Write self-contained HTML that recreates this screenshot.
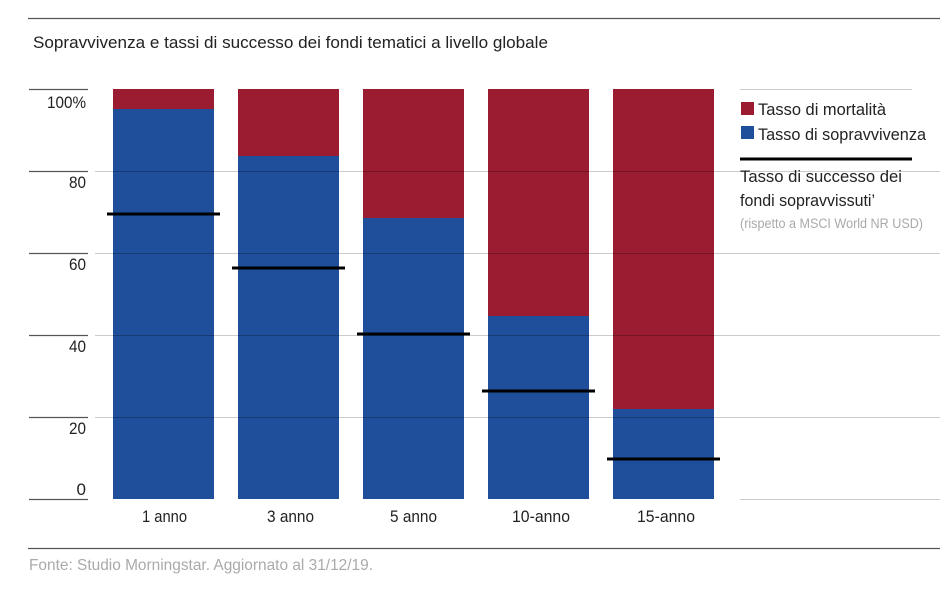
<!DOCTYPE html>
<html><head><meta charset="utf-8"><style>
html,body{margin:0;padding:0;background:#fff;}
svg{display:block;font-family:"Liberation Sans",sans-serif;}
</style></head><body>
<svg width="950" height="596" viewBox="0 0 950 596" xmlns="http://www.w3.org/2000/svg">
<line x1="28" y1="18.5" x2="940" y2="18.5" stroke="#555" stroke-width="1.2"/>
<text x="33" y="48" font-size="17" fill="#222" textLength="515" lengthAdjust="spacingAndGlyphs">Sopravvivenza e tassi di successo dei fondi tematici a livello globale</text>
<g stroke="#ccc" stroke-width="1">
<line x1="95" y1="171.5" x2="940" y2="171.5"/>
<line x1="95" y1="253.5" x2="940" y2="253.5"/>
<line x1="95" y1="335.5" x2="940" y2="335.5"/>
<line x1="95" y1="417.5" x2="940" y2="417.5"/>
<line x1="740" y1="89.5" x2="912" y2="89.5"/>
<line x1="740" y1="499.5" x2="940" y2="499.5"/>
</g>
<g stroke="#555" stroke-width="1.2">
<line x1="29" y1="89.5" x2="88" y2="89.5"/>
<line x1="29" y1="171.5" x2="88" y2="171.5"/>
<line x1="29" y1="253.5" x2="88" y2="253.5"/>
<line x1="29" y1="335.5" x2="88" y2="335.5"/>
<line x1="29" y1="417.5" x2="88" y2="417.5"/>
<line x1="29" y1="499.5" x2="88" y2="499.5"/>
</g>
<g font-size="17" fill="#222" text-anchor="end">
<text x="86" y="108" textLength="39" lengthAdjust="spacingAndGlyphs">100%</text>
<text x="86" y="188" textLength="17" lengthAdjust="spacingAndGlyphs">80</text>
<text x="86" y="270" textLength="17" lengthAdjust="spacingAndGlyphs">60</text>
<text x="86" y="352" textLength="17" lengthAdjust="spacingAndGlyphs">40</text>
<text x="86" y="434" textLength="17" lengthAdjust="spacingAndGlyphs">20</text>
<text x="86" y="495">0</text>
</g>
<g>
<rect x="113" y="89" width="101" height="410" fill="#9b1b30"/>
<rect x="113" y="109" width="101" height="390" fill="#1f4e9a"/>
<rect x="238" y="89" width="101" height="410" fill="#9b1b30"/>
<rect x="238" y="156" width="101" height="343" fill="#1f4e9a"/>
<rect x="363" y="89" width="101" height="410" fill="#9b1b30"/>
<rect x="363" y="218" width="101" height="281" fill="#1f4e9a"/>
<rect x="488" y="89" width="101" height="410" fill="#9b1b30"/>
<rect x="488" y="316" width="101" height="183" fill="#1f4e9a"/>
<rect x="613" y="89" width="101" height="410" fill="#9b1b30"/>
<rect x="613" y="409" width="101" height="90" fill="#1f4e9a"/>
</g>
<g stroke="rgba(0,0,0,0.25)" stroke-width="1">
<line x1="113" y1="171.5" x2="214" y2="171.5"/><line x1="113" y1="253.5" x2="214" y2="253.5"/><line x1="113" y1="335.5" x2="214" y2="335.5"/><line x1="113" y1="417.5" x2="214" y2="417.5"/>
<line x1="238" y1="171.5" x2="339" y2="171.5"/><line x1="238" y1="253.5" x2="339" y2="253.5"/><line x1="238" y1="335.5" x2="339" y2="335.5"/><line x1="238" y1="417.5" x2="339" y2="417.5"/>
<line x1="363" y1="171.5" x2="464" y2="171.5"/><line x1="363" y1="253.5" x2="464" y2="253.5"/><line x1="363" y1="335.5" x2="464" y2="335.5"/><line x1="363" y1="417.5" x2="464" y2="417.5"/>
<line x1="488" y1="171.5" x2="589" y2="171.5"/><line x1="488" y1="253.5" x2="589" y2="253.5"/><line x1="488" y1="335.5" x2="589" y2="335.5"/><line x1="488" y1="417.5" x2="589" y2="417.5"/>
<line x1="613" y1="171.5" x2="714" y2="171.5"/><line x1="613" y1="253.5" x2="714" y2="253.5"/><line x1="613" y1="335.5" x2="714" y2="335.5"/><line x1="613" y1="417.5" x2="714" y2="417.5"/>
</g>
<g stroke="#000" stroke-width="3">
<line x1="107" y1="214" x2="220" y2="214"/>
<line x1="232" y1="268" x2="345" y2="268"/>
<line x1="357" y1="334" x2="470" y2="334"/>
<line x1="482" y1="391" x2="595" y2="391"/>
<line x1="607" y1="459" x2="720" y2="459"/>
</g>
<g font-size="17" fill="#222" lengthAdjust="spacingAndGlyphs">
<text x="142" y="522" textLength="45" lengthAdjust="spacingAndGlyphs">1 anno</text>
<text x="267" y="522" textLength="47" lengthAdjust="spacingAndGlyphs">3 anno</text>
<text x="390" y="522" textLength="47" lengthAdjust="spacingAndGlyphs">5 anno</text>
<text x="512" y="522" textLength="58" lengthAdjust="spacingAndGlyphs">10-anno</text>
<text x="637" y="522" textLength="58" lengthAdjust="spacingAndGlyphs">15-anno</text>
</g>
<rect x="741" y="102" width="13" height="13" fill="#9b1b30"/>
<rect x="741" y="126" width="13" height="13" fill="#1f4e9a"/>
<g font-size="17" fill="#222">
<text x="758" y="115" textLength="128" lengthAdjust="spacingAndGlyphs">Tasso di mortalità</text>
<text x="758" y="140" textLength="168" lengthAdjust="spacingAndGlyphs">Tasso di sopravvivenza</text>
<text x="740" y="182" textLength="162" lengthAdjust="spacingAndGlyphs">Tasso di successo dei</text>
<text x="740" y="206" textLength="135" lengthAdjust="spacingAndGlyphs">fondi sopravvissuti’</text>
</g>
<line x1="740" y1="159" x2="912" y2="159" stroke="#000" stroke-width="3"/>
<text x="740" y="228" font-size="13.5" fill="#aaa" textLength="183" lengthAdjust="spacingAndGlyphs">(rispetto a MSCI World NR USD)</text>
<line x1="28" y1="548.5" x2="940" y2="548.5" stroke="#555" stroke-width="1.2"/>
<text x="29" y="570" font-size="16" fill="#aaa" textLength="344" lengthAdjust="spacingAndGlyphs">Fonte: Studio Morningstar. Aggiornato al 31/12/19.</text>
</svg>
</body></html>
